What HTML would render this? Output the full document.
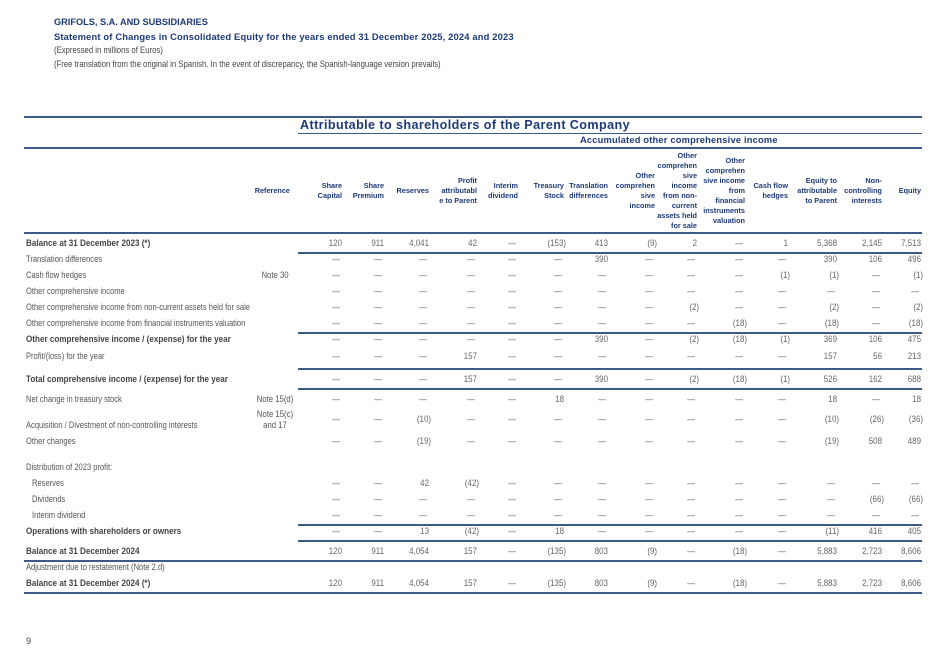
<!DOCTYPE html>
<html><head><meta charset="utf-8">
<style>
body{margin:0;width:950px;height:672px;background:#fff;position:relative;overflow:hidden;font-family:"Liberation Sans Narrow","Liberation Sans",sans-serif;}
.t{position:absolute;white-space:nowrap;}
.hd{position:absolute;font-family:"Liberation Sans",sans-serif;font-weight:bold;color:#1d3a78;font-size:7.3px;line-height:10px;text-align:right;}
.ln{position:absolute;height:2px;background:#3c5a8a;}
.lab{position:absolute;left:26px;font-size:9px;color:#555;white-space:nowrap;transform-origin:0 50%;transform:scaleX(0.84);}
.lab.b{font-weight:bold;color:#444;transform:scaleX(0.9);}
.num{position:absolute;font-size:9px;color:#666;text-align:right;width:50px;transform-origin:100% 50%;transform:scaleX(0.88);}
.ref{position:absolute;font-size:9px;color:#555;text-align:center;width:60px;line-height:11px;transform:scaleX(0.86);}
.sub{position:absolute;left:54px;font-size:9px;color:#444;white-space:nowrap;transform-origin:0 50%;transform:scaleX(0.86);}
</style></head><body>
<div class="t" style="left:54px;top:17px;font-family:'Liberation Sans',sans-serif;font-weight:bold;font-size:9.2px;color:#1d3a78;">GRIFOLS, S.A. AND SUBSIDIARIES</div>
<div class="t" style="left:54px;top:31px;font-family:'Liberation Sans',sans-serif;font-weight:bold;font-size:9.4px;color:#1d3a78;letter-spacing:0.15px;">Statement of Changes in Consolidated Equity for the years ended 31 December 2025, 2024 and 2023</div>
<div class="sub" style="top:45px;">(Expressed in millions of Euros)</div>
<div class="sub" style="top:59px;">(Free translation from the original in Spanish. In the event of discrepancy, the Spanish-language version prevails)</div>
<div class="t" style="left:26px;top:636px;font-size:9px;color:#444;">9</div>

<div class="ln" style="left:24px;width:898px;top:116px;"></div>
<div class="t" style="left:300px;top:118px;font-family:'Liberation Sans',sans-serif;font-weight:bold;font-size:12.6px;color:#1d3a78;letter-spacing:0.4px;">Attributable to shareholders of the Parent Company</div>
<div class="ln" style="left:298px;width:624px;top:133px;height:1px;"></div>
<div class="t" style="left:580px;top:135px;font-family:'Liberation Sans',sans-serif;font-weight:bold;font-size:9.3px;color:#1d3a78;letter-spacing:0.2px;">Accumulated other comprehensive income</div>
<div class="ln" style="left:24px;width:898px;top:147px;"></div>
<div class="ln" style="left:24px;width:898px;top:232px;"></div>
<div id="hdr"></div>
<div id="body"></div>
<script>
const columns=["Share<br>Capital","Share<br>Premium","Reserves","Profit<br>attributabl<br>e to Parent","Interim<br>dividend","Treasury<br>Stock","Translation<br>differences","Other<br>comprehen<br>sive<br>income","Other<br>comprehen<br>sive<br>income<br>from non-<br>current<br>assets held<br>for sale","Other<br>comprehen<br>sive income<br>from<br>financial<br>instruments<br>valuation","Cash flow<br>hedges","Equity to<br>attributable<br>to Parent","Non-<br>controlling<br>interests","Equity"];
const colRight=[342,384,429,477,518,564,608,655,697,745,788,837,882,921];
const rowLabels=["Balance at 31 December 2023 (*)","Translation differences","Cash flow hedges","Other comprehensive income","Other comprehensive income from non-current assets held for sale","Other comprehensive income from financial instruments valuation","Other comprehensive income / (expense) for the year","Profit/(loss) for the year","Total comprehensive income / (expense) for the year","Net change in treasury stock","Acquisition / Divestment of non-controlling interests","Other changes","Distribution of 2023 profit:","Reserves","Dividends","Interim dividend","Operations with shareholders or owners","Balance at 31 December 2024","Adjustment due to restatement (Note 2.d)","Balance at 31 December 2024 (*)"];
const rowRefs=["","","Note 30","","","","","","","Note 15(d)","Note 15(c)<br>and 17","","","","","","","","",""];
const D="—";
const rowValues=[
["120","911","4,041","42",D,"(153)","413","(9)","2",D,"1","5,368","2,145","7,513"],
[D,D,D,D,D,D,"390",D,D,D,D,"390","106","496"],
[D,D,D,D,D,D,D,D,D,D,"(1)","(1)",D,"(1)"],
[D,D,D,D,D,D,D,D,D,D,D,D,D,D],
[D,D,D,D,D,D,D,D,"(2)",D,D,"(2)",D,"(2)"],
[D,D,D,D,D,D,D,D,D,"(18)",D,"(18)",D,"(18)"],
[D,D,D,D,D,D,"390",D,"(2)","(18)","(1)","369","106","475"],
[D,D,D,"157",D,D,D,D,D,D,D,"157","56","213"],
[D,D,D,"157",D,D,"390",D,"(2)","(18)","(1)","526","162","688"],
[D,D,D,D,D,"18",D,D,D,D,D,"18",D,"18"],
[D,D,"(10)",D,D,D,D,D,D,D,D,"(10)","(26)","(36)"],
[D,D,"(19)",D,D,D,D,D,D,D,D,"(19)","508","489"],
null,
[D,D,"42","(42)",D,D,D,D,D,D,D,D,D,D],
[D,D,D,D,D,D,D,D,D,D,D,D,"(66)","(66)"],
[D,D,D,D,D,D,D,D,D,D,D,D,D,D],
[D,D,"13","(42)",D,"18",D,D,D,D,D,"(11)","416","405"],
["120","911","4,054","157",D,"(135)","803","(9)",D,"(18)",D,"5,883","2,723","8,606"],
null,
["120","911","4,054","157",D,"(135)","803","(9)",D,"(18)",D,"5,883","2,723","8,606"]];
const rowY=[244,260,276,292,308,324,340,357,380,400,420,442,468,484,500,516,532,552,568,584];
const boldRows=[0,6,8,16,17,19];
const indentRows=[13,14,15];
const ruleY=[252,332,368,388,524,540];
const fullRuleY=[560,592];

const hdr=document.getElementById('hdr');
let r=document.createElement('div');r.className='hd';


r.style.left='240px';r.style.width='50px';r.style.top='186px';r.innerHTML='Reference';hdr.appendChild(r);
columns.forEach((c,i)=>{const d=document.createElement('div');d.className='hd';


const n=c.split('<br>').length;d.style.left=(colRight[i]-60)+'px';d.style.width='60px';d.style.top=(191-n*5)+'px';d.innerHTML=c;hdr.appendChild(d);});

const body=document.getElementById('body');
rowLabels.forEach((lab,i)=>{const y=rowY[i];
const l=document.createElement('div');l.className='lab'+(boldRows.includes(i)?' b':'');


l.style.top=(y-6+(i===10?6:0))+'px';if(indentRows.includes(i))l.style.left='32px';l.textContent=lab;body.appendChild(l);
if(rowRefs[i]){const rf=document.createElement('div');rf.className='ref';


rf.style.left='245px';rf.style.top=(y-6-(i===10?5:0))+'px';rf.innerHTML=rowRefs[i];body.appendChild(rf);}
const vals=rowValues[i];if(!vals)return;
vals.forEach((v,j)=>{const c=document.createElement('div');c.className='num';


let right=colRight[j];if(v===D)right-=2;else if(v.startsWith('('))right+=2;
c.style.left=(right-50)+'px';c.style.top=(y-6)+'px';c.textContent=v;body.appendChild(c);});});
ruleY.forEach(y=>{const d=document.createElement('div');d.className='ln';


d.style.left='298px';d.style.width='624px';d.style.top=y+'px';body.appendChild(d);});
fullRuleY.forEach(y=>{const d=document.createElement('div');d.className='ln';


d.style.left='24px';d.style.width='898px';d.style.top=y+'px';body.appendChild(d);});
</script>
</body></html>
